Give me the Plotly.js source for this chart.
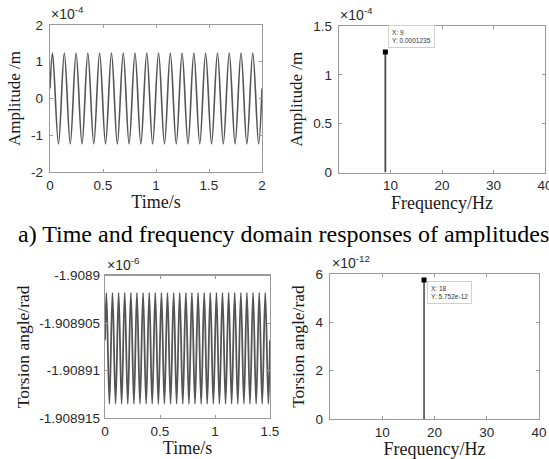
<!DOCTYPE html>
<html>
<head>
<meta charset="utf-8">
<script src="https://cdn.plot.ly/plotly-3.0.1.min.js"></script>
<style>html,body{margin:0;padding:0;background:#fff;}#chart{width:549px;height:459px;}</style>
</head>
<body>
<div id="chart"></div>
<script>
// ---- Data ----
// (a) time response of amplitude (x10^-4 m): start, peaks/troughs, end
const ampTime = [0, 0.024, 0.080, 0.135, 0.191, 0.246, 0.302, 0.357, 0.413, 0.468, 0.524,
  0.580, 0.635, 0.691, 0.746, 0.802, 0.857, 0.913, 0.968, 1.024, 1.080, 1.135, 1.191,
  1.246, 1.302, 1.357, 1.413, 1.468, 1.524, 1.580, 1.635, 1.691, 1.746, 1.802, 1.857,
  1.913, 1.968, 2.0];
const ampValue = [0.27, 1.235, -1.235, 1.235, -1.235, 1.235, -1.235, 1.235, -1.235, 1.235, -1.235,
  1.235, -1.235, 1.235, -1.235, 1.235, -1.235, 1.235, -1.235, 1.235, -1.235, 1.235, -1.235,
  1.235, -1.235, 1.235, -1.235, 1.235, -1.235, 1.235, -1.235, 1.235, -1.235, 1.235, -1.235,
  1.235, -1.235, 0.27];
// (a) frequency response (x10^-4 m)
const ampFreq = [9];
const ampPeak = [1.235];
const ampTip = ["X: 9", "Y: 0.0001235"];

// (b) time response of torsion angle (x10^-6 rad)
const torTime = [0, 0.013, 0.040, 0.068, 0.096, 0.124, 0.151, 0.179, 0.207, 0.235, 0.263,
  0.290, 0.318, 0.346, 0.374, 0.402, 0.429, 0.457, 0.485, 0.513, 0.540, 0.568, 0.596,
  0.624, 0.651, 0.679, 0.707, 0.735, 0.763, 0.790, 0.818, 0.846, 0.874, 0.902, 0.929,
  0.957, 0.985, 1.013, 1.040, 1.068, 1.096, 1.124, 1.151, 1.179, 1.207, 1.235, 1.263,
  1.290, 1.318, 1.346, 1.374, 1.402, 1.429, 1.457, 1.485, 1.5];
const torValue = [-1.9089068,
  -1.9089018, -1.9089135, -1.9089018, -1.9089135, -1.9089018, -1.9089135, -1.9089018, -1.9089135,
  -1.9089018, -1.9089135, -1.9089018, -1.9089135, -1.9089018, -1.9089135, -1.9089018, -1.9089135,
  -1.9089018, -1.9089135, -1.9089018, -1.9089135, -1.9089018, -1.9089135, -1.9089018, -1.9089135,
  -1.9089018, -1.9089135, -1.9089018, -1.9089135, -1.9089018, -1.9089135, -1.9089018, -1.9089135,
  -1.9089018, -1.9089135, -1.9089018, -1.9089135, -1.9089018, -1.9089135, -1.9089018, -1.9089135,
  -1.9089018, -1.9089135, -1.9089018, -1.9089135, -1.9089018, -1.9089135, -1.9089018, -1.9089135,
  -1.9089018, -1.9089135, -1.9089018, -1.9089135, -1.9089018, -1.9089135,
  -1.9089068];
// (b) frequency response (x10^-12 rad)
const torFreq = [18];
const torPeak = [5.752];
const torTip = ["X: 18", "Y: 5.752e-12"];

// tick labels
const timeTicksA = [0, 0.5, 1, 1.5, 2];
const timeTextA = ["0", "0.5", "1", "1.5", "2"];
const ampTicks = [-2, -1, 0, 1, 2];
const ampText = ["-2", "-1", "0", "1", "2"];
const freqTicks = [10, 20, 30, 40];
const freqText = ["10", "20", "30", "40"];
const ampFTicks = [0, 0.5, 1, 1.5];
const ampFText = ["0", "0.5", "1", "1.5"];
const timeTicksB = [0, 0.5, 1, 1.5];
const timeTextB = ["0", "0.5", "1", "1.5"];
const torTicks = [-1.908915, -1.90891, -1.908905, -1.9089];
const torText = ["-1.908915", "-1.90891", "-1.908905", "-1.9089"];
const torFTicks = [0, 2, 4, 6];
const torFText = ["0", "2", "4", "6"];

// ---- Build ----
const W = 549, H = 459;
const px = v => v / W;
const py = v => 1 - v / H;
const sans = "Liberation Sans, Arial, Helvetica, sans-serif";
const serif = "Liberation Serif, Times New Roman, serif";
const lineCol = "#555555";
const axCol = "#9a9a9a";

function stems(fr, val) {
  const x = [], y = [];
  fr.forEach((f, i) => { x.push(f, f, null); y.push(0, val[i], null); });
  return {x, y};
}
const s1 = stems(ampFreq, ampPeak);
const s2 = stems(torFreq, torPeak);

const traces = [
  {x: ampTime, y: ampValue, type: "scatter", mode: "lines", xaxis: "x", yaxis: "y",
   line: {color: lineCol, width: 1.6, shape: "spline", smoothing: 1}, hoverinfo: "skip"},
  {x: s1.x, y: s1.y, type: "scatter", mode: "lines", xaxis: "x2", yaxis: "y2",
   line: {color: "#4a4a4a", width: 1.8}, hoverinfo: "skip"},
  {x: ampFreq, y: ampPeak, type: "scatter", mode: "markers", xaxis: "x2", yaxis: "y2",
   marker: {symbol: "square", size: 5, color: "#000"}, hoverinfo: "skip"},
  {x: torTime, y: torValue, type: "scatter", mode: "lines", xaxis: "x3", yaxis: "y3",
   line: {color: lineCol, width: 1.8, shape: "spline", smoothing: 1}, hoverinfo: "skip"},
  {x: s2.x, y: s2.y, type: "scatter", mode: "lines", xaxis: "x4", yaxis: "y4",
   line: {color: "#4a4a4a", width: 1.6}, hoverinfo: "skip"},
  {x: torFreq, y: torPeak, type: "scatter", mode: "markers", xaxis: "x4", yaxis: "y4",
   marker: {symbol: "square", size: 5, color: "#000"}, hoverinfo: "skip"}
];

function ax(domain, range, vals, text, extra) {
  return Object.assign({
    domain: domain, range: range, tickmode: "array", tickvals: vals, ticktext: text,
    showline: true, linecolor: axCol, linewidth: 1.3, mirror: "ticks",
    ticks: "inside", ticklen: 3, tickcolor: axCol, tickwidth: 1,
    showgrid: false, zeroline: false, fixedrange: true, ticklabeloverflow: "allow",
    tickfont: {family: sans, size: 13.5, color: "#2a2a2a"}
  }, extra || {});
}
function xt(t, st) { return {text: t, font: {family: serif, size: 18, color: "#1a1a1a"}, standoff: st}; }
function yt(t, st, sz) { return {text: t, font: {family: serif, size: sz, color: "#1a1a1a"}, standoff: st}; }

const layout = {
  width: W, height: H, margin: {l: 0, r: 0, t: 0, b: 0},
  paper_bgcolor: "#fff", plot_bgcolor: "#fff", showlegend: false,
  xaxis: ax([px(50), px(262)], [0, 2], timeTicksA, timeTextA, {anchor: "y", title: xt("Time/s", 2)}),
  yaxis: ax([py(172), py(25)], [-2, 2], ampTicks, ampText, {anchor: "x", ticklabelstandoff: 3, title: yt("Amplitude /m", 6, 17)}),
  xaxis2: ax([px(339), px(545)], [0, 40], freqTicks, freqText, {anchor: "y2", title: xt("Frequency/Hz", 1)}),
  yaxis2: ax([py(172.5), py(26)], [0, 1.5], ampFTicks, ampFText, {anchor: "x2", ticklabelstandoff: 3, title: yt("Amplitude /m", 6, 17)}),
  xaxis3: ax([px(105), px(270)], [0, 1.5], timeTicksB, timeTextB, {anchor: "y3", title: xt("Time/s", 3)}),
  yaxis3: ax([py(418), py(275.7)], [-1.908915, -1.9089], torTicks, torText, {anchor: "x3", ticklabelstandoff: 1, title: yt("Torsion angle/rad", 5, 17.5)}),
  xaxis4: ax([px(330), px(539)], [0, 40], freqTicks, freqText, {anchor: "y4", title: xt("Frequency/Hz", 0)}),
  yaxis4: ax([py(419), py(274)], [0, 6], torFTicks, torFText, {anchor: "x4", ticklabelstandoff: 3, title: yt("Torsion angle/rad", 6, 17.5)}),
  annotations: [
    {xref: "paper", yref: "paper", x: px(49), y: py(24), xanchor: "left", yanchor: "bottom",
     text: "×10<sup>-4</sup>", showarrow: false, font: {family: sans, size: 14, color: "#2a2a2a"}},
    {xref: "paper", yref: "paper", x: px(338), y: py(25), xanchor: "left", yanchor: "bottom",
     text: "×10<sup>-4</sup>", showarrow: false, font: {family: sans, size: 14, color: "#2a2a2a"}},
    {xref: "paper", yref: "paper", x: px(105), y: py(274.5), xanchor: "left", yanchor: "bottom",
     text: "×10<sup>-6</sup>", showarrow: false, font: {family: sans, size: 14, color: "#2a2a2a"}},
    {xref: "paper", yref: "paper", x: px(330), y: py(273), xanchor: "left", yanchor: "bottom",
     text: "×10<sup>-12</sup>", showarrow: false, font: {family: sans, size: 14, color: "#2a2a2a"}},
    {xref: "x2", yref: "y2", x: ampFreq[0], y: ampPeak[0], xanchor: "left", yanchor: "bottom",
     xshift: 3, yshift: 4, text: ampTip.join("<br>"), align: "left", showarrow: false,
     bgcolor: "#fff", bordercolor: "#cfcfcf", borderwidth: 1, borderpad: 3,
     font: {family: sans, size: 6.5, color: "#333"}},
    {xref: "x4", yref: "y4", x: torFreq[0], y: torPeak[0], xanchor: "left", yanchor: "top",
     xshift: 3, yshift: -1, text: torTip.join("<br>"), align: "left", showarrow: false,
     bgcolor: "#fff", bordercolor: "#cfcfcf", borderwidth: 1, borderpad: 3,
     font: {family: sans, size: 6.5, color: "#333"}},
    {xref: "paper", yref: "paper", x: px(16), y: py(234), xanchor: "left", yanchor: "middle",
     text: "a) Time and frequency domain responses of amplitudes", showarrow: false,
     font: {family: serif, size: 24, color: "#000"}}
  ]
};

Plotly.newPlot("chart", traces, layout, {staticPlot: true, displayModeBar: false});
</script>
</body>
</html>
